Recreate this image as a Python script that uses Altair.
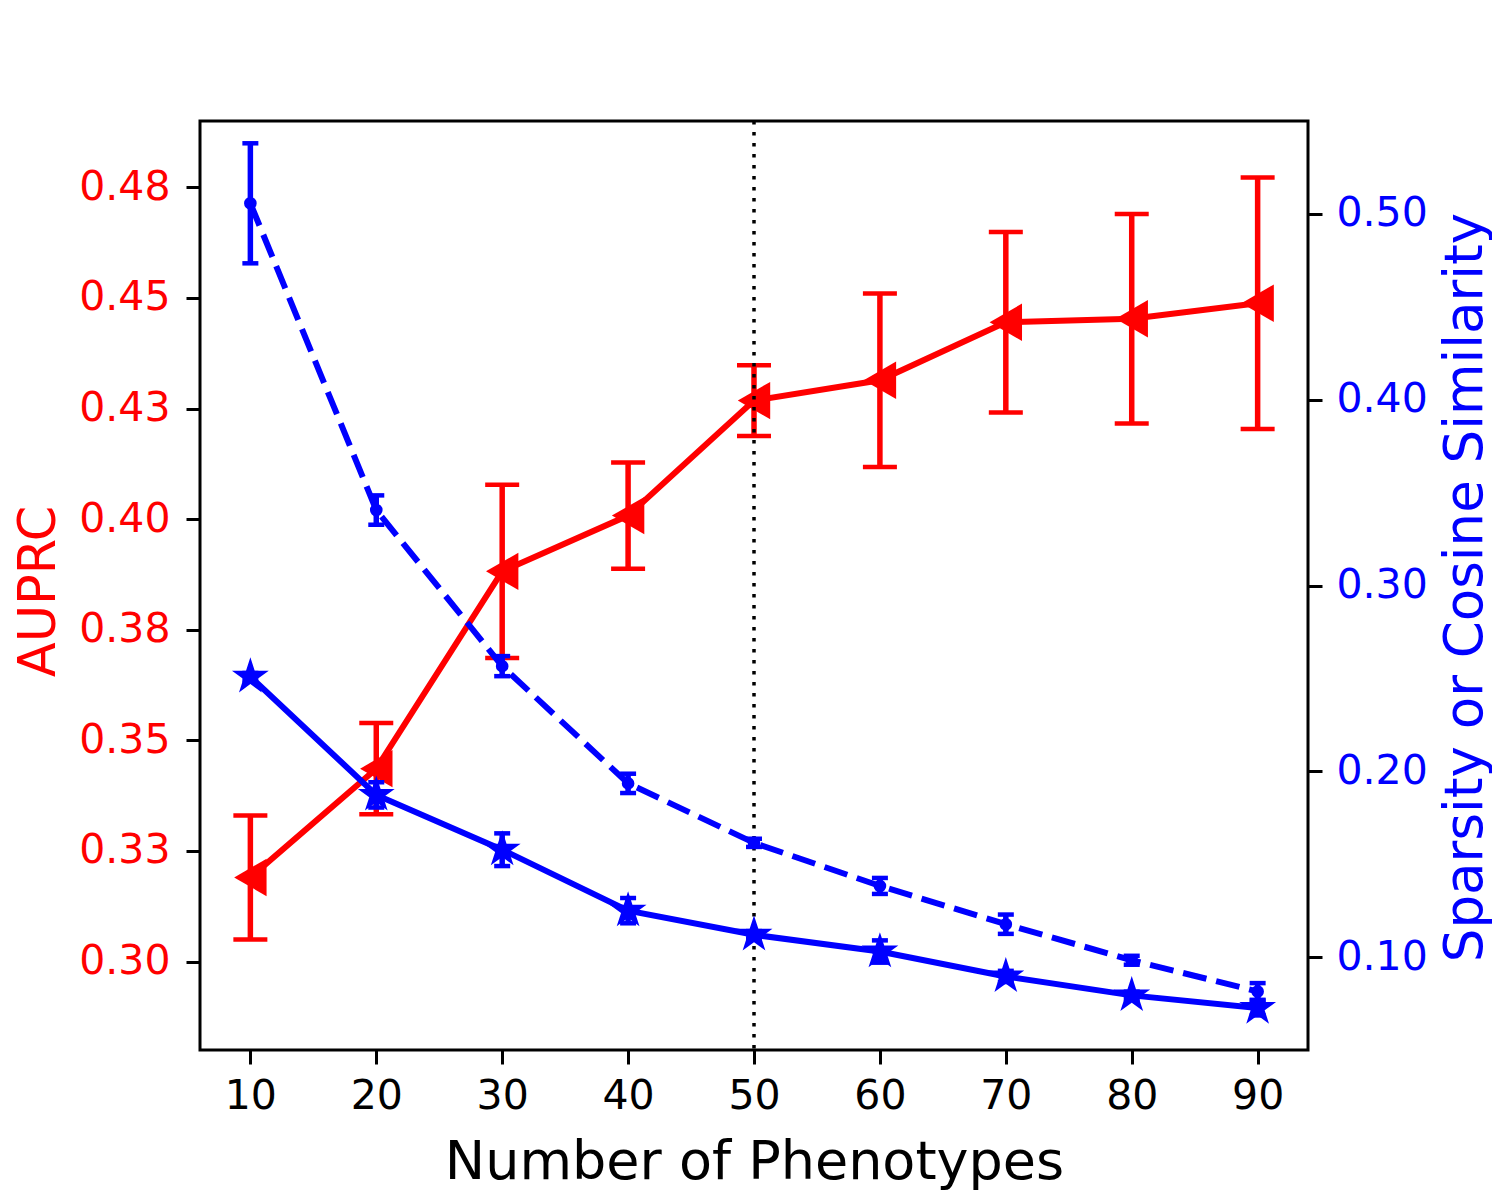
import altair as alt
import pandas as pd

# ---- data ----
phenotypes = [10, 20, 30, 40, 50, 60, 70, 80, 90]

auprc_mean = [0.3190, 0.3436, 0.3882, 0.4008, 0.4268, 0.4314, 0.4445, 0.4453, 0.4488]
auprc_err = [0.0140, 0.0103, 0.0196, 0.0120, 0.0080, 0.0196, 0.0204, 0.0237, 0.0284]

dashed_mean = [0.5057, 0.3406, 0.2566, 0.1935, 0.1615, 0.1383, 0.1177, 0.0983, 0.0815]
dashed_err = [0.0323, 0.0079, 0.0054, 0.0052, 0.0022, 0.0043, 0.0052, 0.0024, 0.0045]

solid_mean = [0.2509, 0.1873, 0.1578, 0.1250, 0.1120, 0.1030, 0.0896, 0.0794, 0.0726]
solid_err = [0.0020, 0.0068, 0.0088, 0.0068, 0.0020, 0.0060, 0.0030, 0.0020, 0.0040]

vline_x = [50]

left_ticks = [0.300, 0.325, 0.350, 0.375, 0.400, 0.425, 0.450, 0.475]
left_labels = ["0.30", "0.33", "0.35", "0.38", "0.40", "0.43", "0.45", "0.48"]
right_ticks = [0.10, 0.20, 0.30, 0.40, 0.50]
x_ticks = [10, 20, 30, 40, 50, 60, 70, 80, 90]

RED = "#ff0000"
BLUE = "#0000ff"
FONT = "DejaVu Sans"
STAR = ("M0,-1L0.2245,-0.309L0.951,-0.309L0.363,0.118L0.588,0.809L0,0.382"
        "L-0.588,0.809L-0.363,0.118L-0.951,-0.309L-0.2245,-0.309Z")


def table(mean, err):
    return pd.DataFrame({
        "n": phenotypes,
        "m": mean,
        "lo": [a - b for a, b in zip(mean, err)],
        "hi": [a + b for a, b in zip(mean, err)],
    })


red_df = table(auprc_mean, auprc_err)
dash_df = table(dashed_mean, dashed_err)
solid_df = table(solid_mean, solid_err)
vline_df = pd.DataFrame({"n": vline_x})

label_expr = "''"
for v, l in reversed(list(zip(left_ticks, left_labels))):
    label_expr = f"abs(datum.value - {v}) < 0.001 ? '{l}' : " + label_expr

x_scale = alt.Scale(domain=[6, 94], nice=False, zero=False)
x_axis = alt.Axis(values=x_ticks, title="Number of Phenotypes", labelFontSize=41,
                  labelPadding=12, titleFontSize=54, titleX=554, titleY=128,
                  titleBaseline="alphabetic", titleAlign="center")

yl_scale = alt.Scale(domain=[0.28, 0.49], nice=False, zero=False)
yl_axis = alt.Axis(values=left_ticks, labelExpr=label_expr, title="AUPRC", orient="left",
                   labelColor=RED, titleColor=RED, labelFontSize=41, labelPadding=16,
                   titleFontSize=51, titleAngle=270, titleX=-161, titleY=470,
                   titleAlign="center", titleBaseline="middle")

yr_scale = alt.Scale(domain=[0.05, 0.55], nice=False, zero=False)
yr_axis = alt.Axis(values=right_ticks, format=".2f", title="Sparsity or Cosine Similarity",
                   orient="right", labelColor=BLUE, titleColor=BLUE, labelFontSize=41,
                   labelPadding=14, titleFontSize=53, titleAngle=270, titleX=157,
                   titleY=466, titleAlign="center", titleBaseline="middle")


def X():
    return alt.X("n:Q", scale=x_scale, axis=x_axis)


def series(df, color, scale, axis, shape, size, dash=None, cap=17, lw=6):
    base = alt.Chart(df)
    line_kwargs = dict(color=color, strokeWidth=lw)
    if dash:
        line_kwargs["strokeDash"] = dash
    line = base.mark_line(**line_kwargs).encode(
        x=X(), y=alt.Y("m:Q", scale=scale, axis=axis))
    bars = base.mark_rule(color=color, strokeWidth=5.5).encode(
        x=X(), y=alt.Y("lo:Q", scale=scale, axis=axis), y2="hi:Q")
    cap_lo = base.mark_rule(color=color, strokeWidth=4.5, xOffset=-cap, x2Offset=cap).encode(
        x=X(), x2="n:Q", y=alt.Y("lo:Q", scale=scale, axis=axis))
    cap_hi = base.mark_rule(color=color, strokeWidth=4.5, xOffset=-cap, x2Offset=cap).encode(
        x=X(), x2="n:Q", y=alt.Y("hi:Q", scale=scale, axis=axis))
    pts = base.mark_point(shape=shape, filled=True, color=color, size=size, opacity=1,
                          strokeWidth=0).encode(
        x=X(), y=alt.Y("m:Q", scale=scale, axis=axis))
    return [line, bars, cap_lo, cap_hi, pts]


left = alt.layer(*series(red_df, RED, yl_scale, yl_axis, "triangle-left", 1400, cap=17))

vline = alt.Chart(vline_df).mark_rule(color="black", strokeWidth=3.5, strokeDash=[3.5, 7.5]).encode(
    x=X())

right = alt.layer(
    vline,
    *series(dash_df, BLUE, yr_scale, yr_axis, "circle", 160, dash=[24, 10], cap=8),
    *series(solid_df, BLUE, yr_scale, yr_axis, STAR, 1500, cap=8),
)

chart = alt.layer(left, right).resolve_scale(y="independent").properties(
    width=1108, height=929,
    autosize=alt.AutoSizeParams(type="none"),
    padding={"left": 192, "top": 113, "right": 184, "bottom": 142},
).configure_view(stroke="black", strokeWidth=3).configure_axis(
    grid=False, domain=False, tickColor="black", tickWidth=3, tickSize=14,
    labelFont=FONT, titleFont=FONT, titleFontWeight="normal", labelColor="black",
    titleColor="black",
)

chart.save("out.html", embed_options={"renderer": "svg", "actions": False})
